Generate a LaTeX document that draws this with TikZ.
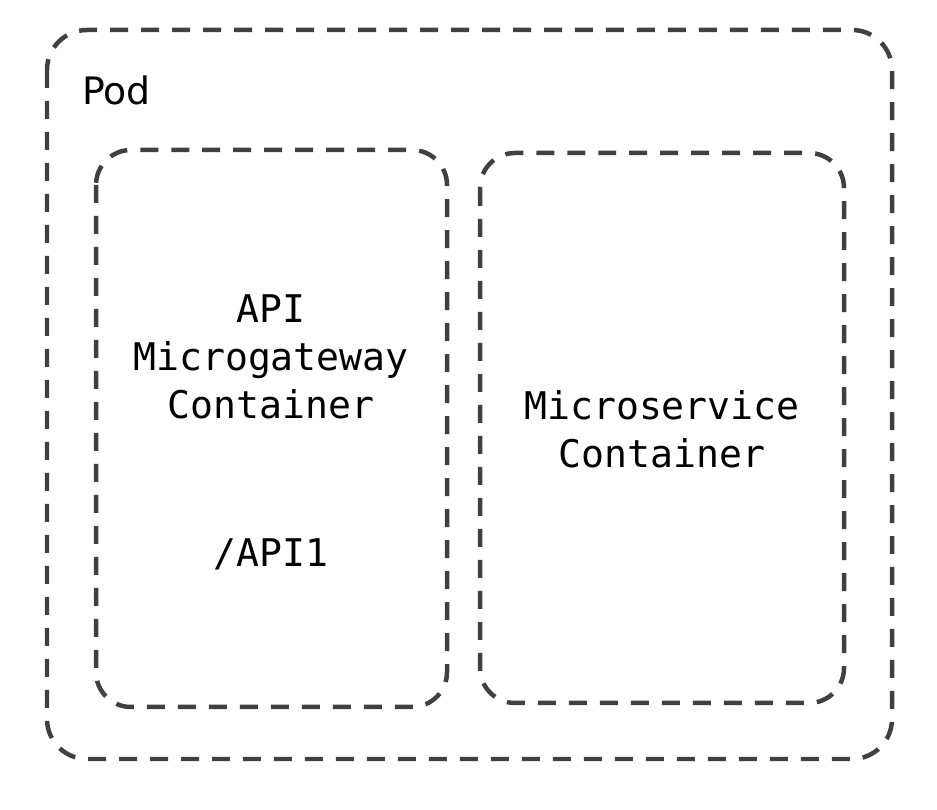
\documentclass[tikz,border=0pt]{standalone}
\usepackage{fontspec}
\setmainfont{DejaVu Sans}
\setmonofont{DejaVu Sans Mono}

\begin{document}
\begin{tikzpicture}[x=0.02cm,y=-0.02cm]

% ------------------------------------------------ pod theme colors
\definecolor{pod_line}{RGB}{64,64,64}    %#404040

\tikzset{
  podbox/.style={draw=pod_line,line width=0.09cm,dash pattern=on 0.36cm off 0.26cm,rounded corners=0.8cm},
  cbox/.style={draw=pod_line,line width=0.09cm,dash pattern=on 0.36cm off 0.26cm,rounded corners=0.7cm},
  mono/.style={font=\ttfamily\fontsize{21.7pt}{27.5pt}\selectfont,align=center,anchor=base,inner sep=0pt}
}

\useasboundingbox (0,0) rectangle (937,810);

\draw[podbox] (47,30) rectangle (892,759);
\node[anchor=base west,inner sep=0pt,font=\fontsize{21.5pt}{26pt}\selectfont] (pod) at (82,105) {Pod};

\draw[cbox] (96,150) rectangle (447,707);
\draw[cbox] (480,153) rectangle (844,703);

% base of a multi-line node sits on its last line
\node[mono] (gateway) at (271,419) {API\\Microgateway\\Container};
\node[mono] (api1) at (271,567) {/API1};
\node[mono] (service) at (662,468) {Microservice\\Container};

\end{tikzpicture}
\end{document}
